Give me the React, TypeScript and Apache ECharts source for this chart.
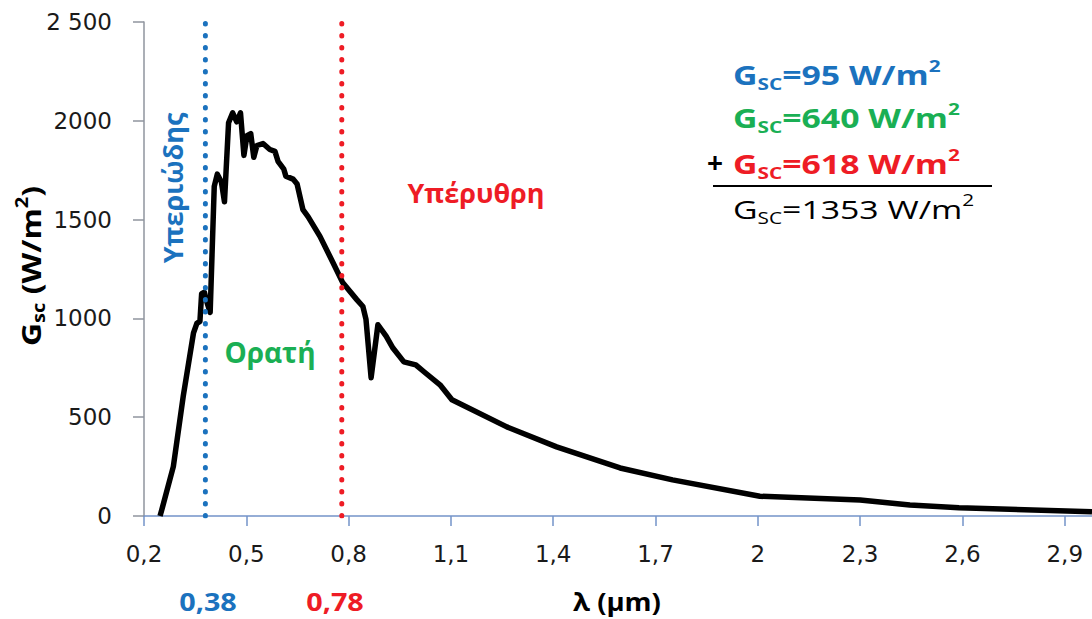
import React, { useEffect, useRef } from "react";
import * as echarts from "echarts";

// Spectrum: wavelength (µm) and extraterrestrial irradiance G_sc (W/m²)
const wavelength = [
  0.247, 0.252, 0.286, 0.315, 0.345, 0.355, 0.364, 0.369, 0.377, 0.385, 0.394,
  0.406, 0.415, 0.427, 0.436, 0.448, 0.46, 0.472, 0.483, 0.493, 0.502, 0.513,
  0.522, 0.531, 0.549, 0.569, 0.584, 0.593, 0.61, 0.616, 0.637, 0.649, 0.666,
  0.681, 0.716, 0.754, 0.783, 0.824, 0.842, 0.851, 0.866, 0.886, 0.91, 0.93,
  0.962, 0.997, 1.021, 1.068, 1.103, 1.264, 1.41, 1.596, 1.75, 2.006, 2.3,
  2.446, 2.59, 2.98,
];
const irradiance = [
  0, 30, 250, 605, 925, 975, 985, 1125, 1132, 1080, 1030,
  1668, 1730, 1690, 1590, 1990, 2040, 1995, 2040, 1825, 1925, 1935,
  1815, 1875, 1885, 1855, 1845, 1795, 1755, 1720, 1705, 1680, 1550,
  1515, 1415, 1283, 1180, 1095, 1060, 995, 700, 968, 910, 850,
  780, 765, 730, 664, 588, 451, 350, 243, 183, 100, 81,
  56, 42, 22,
];

// Band limits (µm)
const uvLimit = 0.38;
const irLimit = 0.78;
const bandLimitLabels = ["0,38", "0,78"];

// Axes
const xMin = 0.2;
const xMax = 2.98;
const xStep = 0.3;
const yMin = 0;
const yMax = 2500;
const yStep = 500;

// Texts
const bandNames = ["Υπεριώδης", "Ορατή", "Υπέρυθρη"];
const bandValues = ["95", "640", "618"];
const totalValue = "1353";
const xTitle = "λ (µm)";

const BLUE = "#1B72BE";
const GREEN = "#1AAF54";
const RED = "#EE1C25";
const X_AXIS = "#7393C9";
const Y_AXIS = "#8F959E";
const FONT = "Open Sans";
const TICK_FONT = "DejaVu Sans";

function gscRich(color: string, bold: boolean, size: number) {
  const w = bold ? "bold" : "normal";
  return {
    g: { fontSize: size, fontWeight: w, fontFamily: FONT, fill: color, lineHeight: 34 },
    s: { fontSize: Math.round(size * 0.62), fontWeight: w, fontFamily: FONT, fill: color, verticalAlign: "bottom", lineHeight: 17 },
    p: { fontSize: Math.round(size * 0.62), fontWeight: w, fontFamily: FONT, fill: color, verticalAlign: "top", lineHeight: 17 },
  };
}

function label(text: string, x: number, y: number, color: string, size: number, extra: any = {}) {
  return {
    type: "text",
    x,
    y,
    ...extra,
    style: {
      text,
      fill: color,
      fontSize: size,
      fontWeight: "bold",
      fontFamily: FONT,
      align: "center",
      verticalAlign: "middle",
      lineHeight: size,
    },
  };
}

export default function App() {
  const ref = useRef<HTMLDivElement>(null);
  useEffect(() => {
    const chart = echarts.init(ref.current!, null, { renderer: "svg" });
    const curve = wavelength.map((x, i) => [x, irradiance[i]]);
    const fmt = (v: number) => String(Math.round(v * 10) / 10).replace(".", ",");
    const legendLine = (top: number, color: string, bold: boolean, value: string) => ({
      type: "text",
      x: 733,
      y: top,
      scaleX: 1.3,
      style: {
        text: `{g|G}{s|SC}{g|=${value} W/m}{p|2}`,
        rich: gscRich(color, bold, 26),
        fill: color,
        align: "left",
        verticalAlign: "top",
      },
    });
    chart.setOption({
      animation: false,
      backgroundColor: "#ffffff",
      grid: { left: 144, right: 0, top: 22, bottom: 103, outerBoundsMode: "none" },
      xAxis: {
        type: "value",
        min: xMin,
        max: xMax,
        interval: xStep,
        axisLine: { show: true, lineStyle: { color: X_AXIS, width: 1.5 } },
        axisTick: { show: true, length: 10, lineStyle: { color: X_AXIS, width: 1.5 } },
        splitLine: { show: false },
        axisLabel: {
          showMaxLabel: false,
          margin: 26,
          fontSize: 23,
          fontFamily: TICK_FONT,
          color: "#1a1a1a",
          formatter: (v: number) => fmt(v),
        },
      },
      yAxis: {
        type: "value",
        min: yMin,
        max: yMax,
        interval: yStep,
        axisLine: { show: true, lineStyle: { color: Y_AXIS, width: 1.5 } },
        axisTick: { show: true, length: 11, lineStyle: { color: Y_AXIS, width: 1.5 } },
        splitLine: { show: false },
        axisLabel: {
          margin: 32,
          fontSize: 23,
          fontFamily: TICK_FONT,
          color: "#1a1a1a",
          formatter: (v: number) => (v === 2500 ? "2 500" : String(v)),
        },
      },
      series: [
        {
          type: "line",
          data: curve,
          showSymbol: false,
          lineStyle: { color: "#000", width: 5.5, join: "round" },
          z: 2,
        },
        {
          type: "line",
          data: [[uvLimit, yMin], [uvLimit, yMax]],
          showSymbol: false,
          lineStyle: { color: BLUE, width: 5, type: [0.5, 11.5], cap: "round" },
          z: 3,
        },
        {
          type: "line",
          data: [[irLimit, yMin], [irLimit, yMax]],
          showSymbol: false,
          lineStyle: { color: RED, width: 5, type: [0.5, 11.5], cap: "round" },
          z: 3,
        },
      ],
      graphic: [
        {
          type: "text",
          x: 30,
          y: 266,
          rotation: Math.PI / 2,
          scaleX: 1.18,
          style: {
            text: "{g|G}{s|sc}{g| (W/m}{p|2}{g|)}",
            rich: gscRich("#000", true, 27),
            align: "center",
            verticalAlign: "middle",
          },
        },
        label(bandNames[0], 172, 188, BLUE, 27, { rotation: Math.PI / 2 }),
        label(bandNames[1], 270, 352, GREEN, 28),
        label(bandNames[2], 476, 192, RED, 27),
        label(bandLimitLabels[0], 208, 601, BLUE, 25, { scaleX: 1.15 }),
        label(bandLimitLabels[1], 335, 601, RED, 25, { scaleX: 1.15 }),
        label(xTitle, 617, 601, "#000", 25, { scaleX: 1.1 }),
        legendLine(58, BLUE, true, bandValues[0]),
        legendLine(101, GREEN, true, bandValues[1]),
        legendLine(147, RED, true, bandValues[2]),
        {
          type: "text",
          x: 707,
          y: 162,
          style: {
            text: "+",
            fill: "#000",
            fontSize: 28,
            fontWeight: "bold",
            fontFamily: FONT,
            align: "left",
            verticalAlign: "middle",
          },
        },
        {
          type: "line",
          shape: { x1: 713, y1: 186, x2: 992, y2: 186 },
          style: { stroke: "#000", lineWidth: 2 },
        },
        legendLine(192, "#000", false, totalValue),
      ],
    });
    return () => chart.dispose();
  }, []);
  return (
    <div
      ref={ref}
      style={{ position: "fixed", left: 0, top: 0, width: 1092, height: 619, background: "#fff" }}
    />
  );
}
